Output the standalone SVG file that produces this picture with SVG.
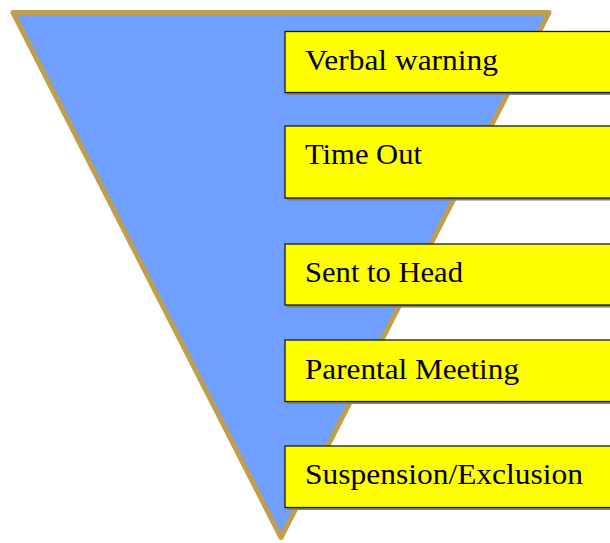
<svg xmlns="http://www.w3.org/2000/svg" width="610" height="543" viewBox="0 0 610 543">
<style>
.box{fill:#FFFF00;stroke:#1a1a1a;stroke-width:1.3}
.shadow{fill:#7f7f7f}
.lbl{font-family:"Liberation Serif","Times New Roman",serif;font-size:29px;fill:#000}
</style>
<rect width="610" height="543" fill="#fff"/>
<g id="funnel">
<polygon points="13,12.5 549,12.5 281,537.5" fill="#6F9FFF" stroke="#BE9E4F" stroke-width="5" stroke-linejoin="round"/>
</g>
<g id="connectors"></g>
<g id="n1">
<rect class="shadow" x="287" y="34" width="330" height="61"/>
<rect class="box" x="285" y="31.5" width="330" height="61"/>
<text class="lbl" x="305" y="70" textLength="193" lengthAdjust="spacingAndGlyphs">Verbal warning</text>
</g>
<g id="n2">
<rect class="shadow" x="287" y="128.5" width="330" height="72"/>
<rect class="box" x="285" y="126" width="330" height="72"/>
<text class="lbl" x="305" y="163.5" textLength="117" lengthAdjust="spacingAndGlyphs">Time Out</text>
</g>
<g id="n3">
<rect class="shadow" x="287" y="246.5" width="330" height="61"/>
<rect class="box" x="285" y="244" width="330" height="61"/>
<text class="lbl" x="305" y="282" textLength="158" lengthAdjust="spacingAndGlyphs">Sent to Head</text>
</g>
<g id="n4">
<rect class="shadow" x="287" y="342.5" width="330" height="61.5"/>
<rect class="box" x="285" y="340" width="330" height="61.5"/>
<text class="lbl" x="305" y="378.5" textLength="214" lengthAdjust="spacingAndGlyphs">Parental Meeting</text>
</g>
<g id="n5">
<rect class="shadow" x="287" y="448.5" width="330" height="61.5"/>
<rect class="box" x="285" y="446" width="330" height="61.5"/>
<text class="lbl" x="305" y="483.5" textLength="278" lengthAdjust="spacingAndGlyphs">Suspension/Exclusion</text>
</g>
</svg>
